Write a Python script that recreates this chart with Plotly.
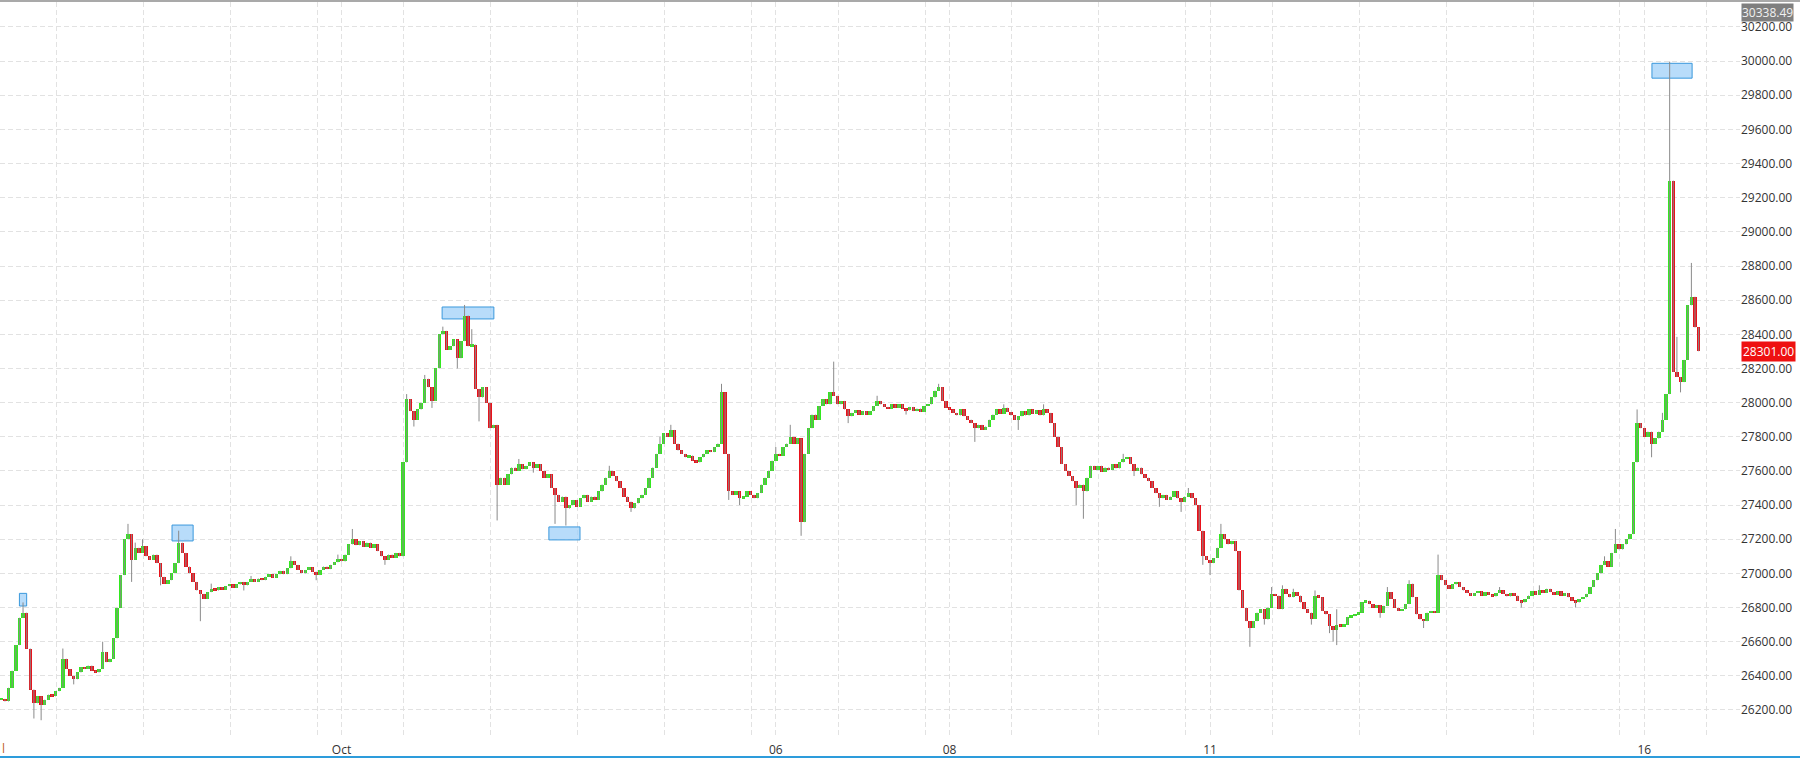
import pandas as pd
import plotly.graph_objects as go

# ---------------- data ----------------
start_time = "2023-09-27 02:00"          # first hourly candle
first_open = 26260

close = [
    26265, 26250, 26330, 26430, 26580, 26740, 26770, 26560, 26320, 26240,
    26280, 26230, 26260, 26290, 26280, 26310, 26330, 26500, 26440, 26400,
    26380, 26420, 26450, 26440, 26460, 26430, 26420, 26440, 26540, 26480,
    26500, 26620, 26800, 26990, 27200, 27230, 27080, 27150, 27120, 27160,
    27100, 27080, 27110, 27060, 26980, 26940, 26960, 27000, 27060, 27180,
    27120, 27040, 27000, 26950, 26900, 26880, 26850, 26890, 26910, 26900,
    26920, 26905, 26925, 26935, 26915, 26935, 26950, 26930, 26950, 26965,
    26950, 26970, 26960, 26980, 26995, 26975, 26995, 27015, 26995, 27030,
    27070, 27050, 27020, 27000, 27020, 27035, 27010, 26990, 27020, 27040,
    27025, 27050, 27065, 27085, 27070, 27110, 27170, 27200, 27165, 27190,
    27155, 27180, 27150, 27170, 27130, 27100, 27080, 27110, 27090, 27120,
    27100, 27650, 28020, 27950, 27900, 27960, 28000, 28140, 28090, 28010,
    28200, 28400, 28420, 28310, 28330, 28370, 28260, 28360, 28510, 28330,
    28340, 28080, 28030, 28090, 28000, 27850, 27870, 27520, 27560, 27520,
    27580, 27620, 27600, 27640, 27610, 27630, 27650, 27620, 27640, 27600,
    27560, 27580, 27500, 27460, 27420, 27450, 27380, 27400, 27430, 27390,
    27440, 27460, 27420, 27450, 27430, 27480, 27520, 27560, 27600, 27570,
    27540, 27500, 27450, 27420, 27380, 27410, 27440, 27460, 27500, 27560,
    27620, 27700, 27760, 27820, 27800, 27840, 27760, 27720, 27700, 27680,
    27690, 27660, 27650, 27680, 27700, 27720, 27710, 27740, 27760, 28060,
    27700, 27480, 27460, 27480, 27440, 27450, 27480, 27460, 27440, 27470,
    27520, 27560, 27600, 27660, 27700, 27690, 27740, 27760, 27800, 27760,
    27790, 27300, 27700, 27850, 27930, 27900, 27980, 28020, 27990, 28060,
    28040, 27990, 28010, 27960, 27920, 27940, 27955, 27930, 27950, 27930,
    27950, 27980, 28010, 27990, 27975, 27965, 27990, 27970, 27990, 27965,
    27955, 27975, 27950, 27965, 27945, 27980, 27990, 28030, 28070, 28090,
    28010, 27970, 27960, 27940, 27925, 27960, 27920, 27900, 27880, 27850,
    27870, 27840, 27860, 27900, 27930, 27960, 27935, 27970, 27945, 27925,
    27900, 27920, 27950, 27925, 27960, 27935, 27955, 27925, 27960, 27940,
    27880, 27800, 27740, 27640, 27600, 27570, 27540, 27500, 27520, 27480,
    27560, 27630, 27605, 27630, 27595, 27620, 27605, 27640, 27615, 27650,
    27670, 27680, 27640, 27600, 27620, 27580, 27560, 27540, 27500, 27470,
    27440, 27460, 27430, 27450, 27480, 27440, 27420, 27450, 27470, 27440,
    27400, 27250, 27100, 27080, 27060, 27090, 27150, 27230, 27200, 27170,
    27190, 27130, 26900, 26800, 26720, 26680, 26720, 26770, 26790, 26730,
    26800, 26880, 26870, 26790, 26910, 26880, 26860, 26890, 26870, 26830,
    26790, 26770, 26735, 26870, 26860, 26780, 26760, 26690, 26670, 26700,
    26690, 26700, 26745, 26750, 26760, 26770, 26830, 26840, 26820, 26800,
    26815, 26770, 26810, 26890, 26850, 26800, 26780, 26790, 26820, 26940,
    26860, 26760, 26730, 26720, 26770, 26780, 26770, 26990, 26960, 26930,
    26910, 26935, 26950, 26920, 26900, 26885, 26870, 26885, 26895, 26870,
    26890, 26875, 26865, 26885, 26900, 26880, 26865, 26885, 26870, 26840,
    26830, 26850, 26870, 26895, 26875, 26900, 26885, 26910, 26890, 26875,
    26895, 26870, 26885, 26860, 26840, 26830, 26850, 26860, 26880, 26920,
    26960, 27000, 27050, 27070, 27040, 27120, 27170, 27140, 27170, 27200,
    27230, 27650, 27880, 27850, 27800, 27830, 27760, 27790, 27830, 27900,
    28050, 29300, 28180, 28150, 28120, 28250, 28570, 28620, 28440, 28301,
]

# visible wick extremes (candle index -> price)
high_marks = {
    6: 26830, 17: 26560, 28: 26600, 35: 27290, 37: 27180, 39: 27200,
    49: 27250, 58: 26940, 69: 26985, 80: 27100, 93: 27110, 97: 27260,
    112: 28050, 117: 28162, 122: 28445, 128: 28572, 130: 28430, 143: 27670,
    168: 27630, 182: 27800, 185: 27870, 199: 28110, 214: 27740, 218: 27870,
    230: 28240, 242: 28040, 259: 28110, 277: 27990, 288: 27990, 310: 27700,
    328: 27500, 337: 27290, 351: 26920, 354: 26930, 357: 26910, 363: 26900,
    369: 26790, 383: 26920, 389: 26960, 397: 27110, 414: 26920, 425: 26930,
    443: 27100, 446: 27260, 452: 27960, 459: 27940, 461: 29997, 463: 28385,
    467: 28818,
}
low_marks = {
    9: 26150, 11: 26140, 20: 26350, 36: 26950, 44: 26930, 55: 26720,
    67: 26900, 87: 26960, 106: 27050, 114: 27860, 119: 27969, 126: 28200,
    132: 27890, 137: 27310, 147: 27590, 153: 27290, 156: 27280, 174: 27360,
    201: 27430, 204: 27400, 221: 27220, 234: 27880, 250: 27930, 269: 27770,
    281: 27840, 297: 27400, 299: 27320, 313: 27570, 320: 27390, 326: 27360,
    332: 27050, 334: 26990, 345: 26570, 349: 26700, 362: 26700, 367: 26650,
    368: 26600, 369: 26580, 381: 26740, 393: 26680, 420: 26800, 435: 26800,
    456: 27680, 464: 28060,
}

# date-axis labels
tick_dates = ["2023-10-01", "2023-10-06", "2023-10-08", "2023-10-11", "2023-10-16"]
tick_labels = ["Oct", "06", "08", "11", "16"]

# highlighted swing zones (time span, price span)
box_t0 = ["2023-09-27 07:00", "2023-09-29 01:10", "2023-10-02 03:48", "2023-10-03 09:18", "2023-10-16 02:06"]
box_t1 = ["2023-09-27 09:00", "2023-09-29 07:00", "2023-10-02 18:06", "2023-10-03 17:54", "2023-10-16 13:12"]
box_p0 = [26809, 27190, 28490, 27196, 29900]
box_p1 = [26883, 27283, 28560, 27272, 29987]

chart_max_label = "30338.49"
last_price = 28301.00

# ---------------- derived candle geometry ----------------
n = len(close)
times = pd.date_range(start_time, periods=n, freq="h")
opens = [first_open] + close[:-1]
highs = [max(o, c) for o, c in zip(opens, close)]
lows = [min(o, c) for o, c in zip(opens, close)]
for i, v in high_marks.items():
    highs[i] = max(highs[i], v)
for i, v in low_marks.items():
    lows[i] = min(lows[i], v)

GREEN = "#33e81f"
RED = "#e8121b"
WICK = "#8a8a8a"
GRID = "#e2e2e2"

wx, wy = [], []
for t, lo, hi in zip(times, lows, highs):
    if hi > lo:
        wx += [t, t, None]
        wy += [lo, hi, None]

MIN_BODY = 13   # smallest drawn body height (price units, ~2 px)
bases = []
heights = []
for o, c in zip(opens, close):
    h = abs(c - o)
    if h < MIN_BODY:
        bases.append((o + c) / 2 - MIN_BODY / 2)
        heights.append(MIN_BODY)
    else:
        bases.append(min(o, c))
        heights.append(h)
colors = [GREEN if c >= o else RED for o, c in zip(opens, close)]

fig = go.Figure()
fig.add_trace(go.Scatter(x=wx, y=wy, mode="lines", line=dict(color=WICK, width=1),
                         hoverinfo="skip", showlegend=False))
fig.add_trace(go.Bar(x=times, y=heights, base=bases, width=0.95 * 3600000,
                     marker=dict(color=colors, line=dict(width=0)),
                     showlegend=False, hoverinfo="skip"))

for t0, t1, p0, p1 in zip(box_t0, box_t1, box_p0, box_p1):
    fig.add_shape(type="rect", xref="x", yref="y", x0=t0, x1=t1, y0=p0, y1=p1,
                  fillcolor="rgba(160,208,248,0.75)", line=dict(color="#3a98dc", width=1),
                  layer="between")

# frame lines
fig.add_shape(type="line", xref="paper", yref="paper", x0=0, x1=1.04, y0=1.0014, y1=1.0014,
              line=dict(color="#a9a9a9", width=2))
fig.add_shape(type="line", xref="paper", yref="paper", x0=0, x1=1.04, y0=-0.0258, y1=-0.0258,
              line=dict(color="#2d9cdb", width=2))

font_family = "Open Sans, Noto Sans, DejaVu Sans, sans-serif"

fig.add_annotation(xref="paper", yref="paper", x=1, y=1, xanchor="left", yanchor="top",
                   yshift=-1, xshift=1, text=chart_max_label, showarrow=False,
                   bgcolor="#7f7f7f", borderpad=0,
                   font=dict(family=font_family, size=12, color="#f0f0f0"))
fig.add_annotation(xref="paper", yref="y", x=1, y=last_price, xanchor="left", yanchor="middle",
                   xshift=1, text=f"{last_price:.2f}", showarrow=False,
                   bgcolor="#ee1111", borderpad=1,
                   font=dict(family=font_family, size=12, color="#ffffff"))
fig.add_annotation(xref="paper", yref="paper", x=0, y=-0.0145, xanchor="left", yanchor="middle",
                   text="l", showarrow=False,
                   font=dict(family=font_family, size=12, color="#c0601e"))

fig.update_layout(
    width=1800, height=758,
    margin=dict(l=0, r=60, t=2, b=20),
    paper_bgcolor="white", plot_bgcolor="white",
    showlegend=False, bargap=0,
    font=dict(family=font_family, size=12, color="#333333"),
    xaxis=dict(
        type="date",
        range=["2023-09-27 01:38", "2023-10-17 02:26"],
        tickmode="array", tickvals=tick_dates, ticktext=tick_labels,
        ticks="", showline=False, zeroline=False, ticklabelstandoff=3,
        showgrid=True, gridcolor=GRID, griddash="5px,3px", gridwidth=1,
        tickfont=dict(family=font_family, size=12, color="#333333"),
        minor=dict(tickmode="linear", tick0="2023-09-27 17:15", dtick=86400000,
                   showgrid=True, gridcolor=GRID, griddash="5px,3px", gridwidth=1, ticks=""),
        fixedrange=True,
    ),
    yaxis=dict(
        side="right",
        range=[26036, 30346],
        tick0=0, dtick=200, tickformat=".2f",
        ticks="", showline=False, zeroline=False,
        showgrid=True, gridcolor=GRID, griddash="5px,3px", gridwidth=1,
        tickfont=dict(family=font_family, size=12, color="#333333"),
        fixedrange=True,
    ),
)

fig.write_html(
    "out.html",
    config={"displayModeBar": False},
    post_script="document.body.style.margin='0';document.body.style.padding='0';"
                "document.documentElement.style.overflow='hidden';",
)
